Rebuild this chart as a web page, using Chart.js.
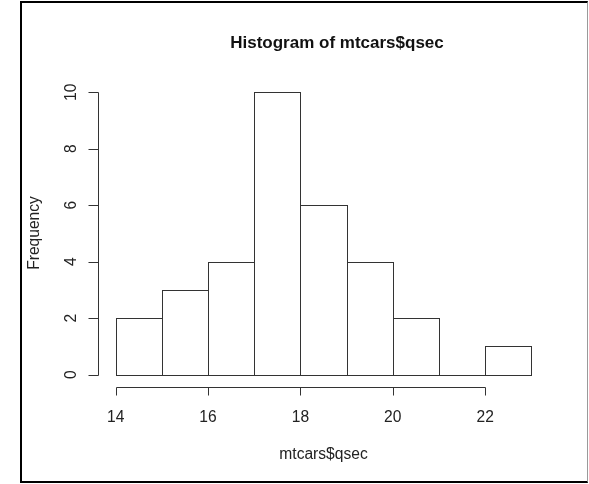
<!DOCTYPE html>
<html>
<head>
<meta charset="utf-8">
<title>Histogram of mtcars$qsec</title>
<script src="https://cdn.jsdelivr.net/npm/chart.js@4/dist/chart.umd.min.js"></script>
<style>
  html, body { margin: 0; padding: 0; background: #fff; }
  .wrap { position: relative; width: 589px; height: 484px; overflow: hidden; }
  #hist { position: absolute; left: 0; top: 0; }
  .frame {
    position: absolute; left: 20px; top: 1px; width: 568px; height: 482px;
    box-sizing: border-box;
    border-left: 2px solid #000; border-top: 2px solid #000;
    border-bottom: 2px solid #000; border-right: 1px solid #9a9a9a;
    pointer-events: none;
  }
</style>
</head>
<body>
<div class="wrap">
  <canvas id="hist" width="589" height="484"></canvas>
  <div class="frame"></div>
</div>
<script>
// qsec histogram: one bin per second, 14..23
const binStarts = [14, 15, 16, 17, 18, 19, 20, 21, 22];
const counts = [2, 3, 4, 10, 6, 4, 2, 0, 1];
const xTicks = [14, 16, 18, 20, 22];
const yTicks = [0, 2, 4, 6, 8, 10];

const mainTitle = 'Histogram of mtcars$qsec';
const xTitle = 'mtcars$qsec';
const yTitle = 'Frequency';

const FONT = '"Liberation Sans", Arial, sans-serif';
const INK = '#222';
const LINE = '#333';

// R-style box outlines + detached axes, drawn from the chart scales
const baseGraphics = {
  id: 'baseGraphics',
  afterDatasetsDraw(chart) {
    const ctx = chart.ctx;
    const xs = chart.scales.x, ys = chart.scales.y;
    const meta = chart.getDatasetMeta(0);
    ctx.save();
    ctx.strokeStyle = LINE;
    ctx.lineWidth = 1;
    meta.data.forEach(el => {
      const p = el.getProps(['x', 'y', 'base', 'width'], true);
      const l = Math.round(p.x - p.width / 2) + 0.5;
      const r = Math.round(p.x + p.width / 2) + 0.5;
      const t = Math.round(p.y) + 0.5;
      const b = Math.round(p.base) + 0.5;
      ctx.strokeRect(l, t, r - l, b - t);
    });

    // x axis
    const axY = Math.round(chart.chartArea.bottom) + 1.5;
    const x0 = Math.round(xs.getPixelForValue(xTicks[0])) + 0.5;
    const x1 = Math.round(xs.getPixelForValue(xTicks[xTicks.length - 1])) + 0.5;
    ctx.beginPath();
    ctx.moveTo(x0, axY); ctx.lineTo(x1, axY);
    xTicks.forEach(v => {
      const px = Math.round(xs.getPixelForValue(v)) + 0.5;
      ctx.moveTo(px, axY); ctx.lineTo(px, axY + 8);
    });
    ctx.stroke();

    // y axis
    const axX = Math.round(chart.chartArea.left) - 0.5;
    const y0 = Math.round(ys.getPixelForValue(yTicks[0])) + 0.5;
    const y1 = Math.round(ys.getPixelForValue(yTicks[yTicks.length - 1])) + 0.5;
    ctx.beginPath();
    ctx.moveTo(axX, y0); ctx.lineTo(axX, y1);
    yTicks.forEach(v => {
      const py = Math.round(ys.getPixelForValue(v)) + 0.5;
      ctx.moveTo(axX, py); ctx.lineTo(axX - 10, py);
    });
    ctx.stroke();

    ctx.fillStyle = INK;
    ctx.font = '15.6px ' + FONT;
    ctx.textAlign = 'center';
    ctx.textBaseline = 'alphabetic';
    xTicks.forEach(v => {
      ctx.fillText(String(v), xs.getPixelForValue(v), 422);
    });
    yTicks.forEach(v => {
      ctx.save();
      ctx.translate(76, ys.getPixelForValue(v));
      ctx.rotate(-Math.PI / 2);
      ctx.fillText(String(v), 0, 0);
      ctx.restore();
    });

    // titles
    ctx.fillText(xTitle, (chart.chartArea.left + chart.chartArea.right) / 2, 459);
    ctx.save();
    ctx.translate(39, 233);
    ctx.rotate(-Math.PI / 2);
    ctx.fillText(yTitle, 0, 0);
    ctx.restore();

    ctx.font = 'bold 17px ' + FONT;
    ctx.fillStyle = '#111';
    ctx.fillText(mainTitle, 337, 48);
    ctx.restore();
  }
};

new Chart(document.getElementById('hist'), {
  type: 'bar',
  data: {
    datasets: [{
      data: binStarts.map((s, i) => ({ x: s + 0.5, y: counts[i] })),
      backgroundColor: '#fff',
      borderWidth: 0,
      barPercentage: 1,
      categoryPercentage: 1
    }]
  },
  options: {
    responsive: false,
    devicePixelRatio: 1,
    animation: false,
    events: [],
    layout: { padding: { left: 99, right: 41, top: 81, bottom: 98 } },
    plugins: { legend: { display: false }, tooltip: { enabled: false }, title: { display: false } },
    scales: {
      x: { type: 'linear', min: 13.64, max: 23.36, offset: false, display: false },
      y: { type: 'linear', min: -0.4, max: 10.4, display: false }
    }
  },
  plugins: [baseGraphics]
});
</script>
</body>
</html>
